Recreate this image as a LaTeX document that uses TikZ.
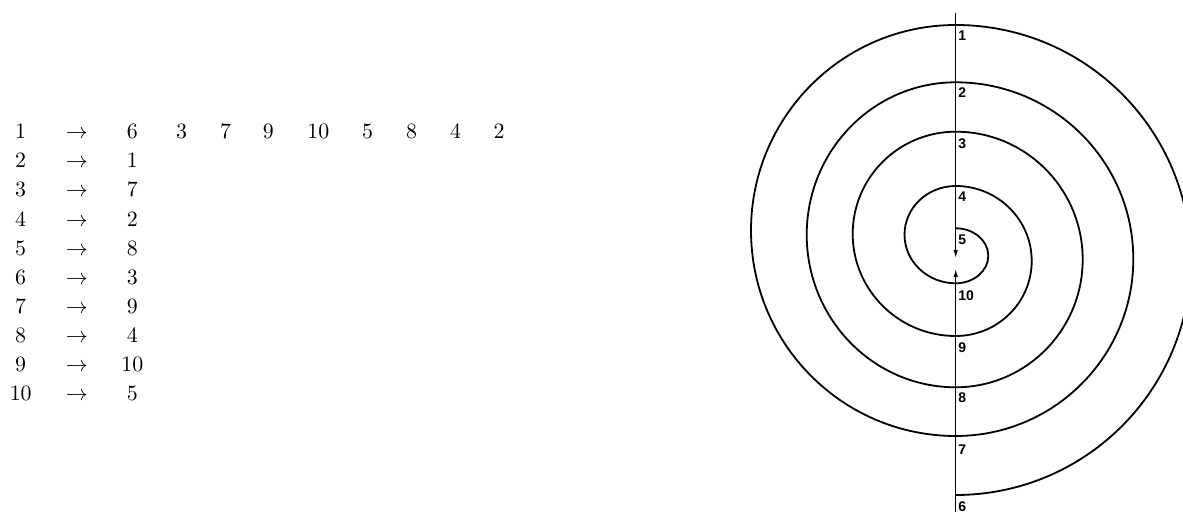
\documentclass[tikz,border=0pt]{standalone}
\usepackage{fontspec}
\newfontfamily\lblfont{Liberation Sans}
\usetikzlibrary{arrows.meta}
\begin{document}
\begin{tikzpicture}[x=0.5pt,y=-0.5pt,
  spiral/.style={line width=0.9pt},
  axisline/.style={line width=0.5pt},
  tipped/.style={-{Latex[length=4pt,width=2.2pt]}},
  lbl/.style={font=\fontsize{7}{8}\selectfont\lblfont\bfseries, anchor=west, inner sep=0pt},
  cell/.style={font=\fontsize{10.95}{13}\selectfont, anchor=base, inner sep=0pt}]
\useasboundingbox (0,0) rectangle (1183,512);
\clip (0,0) rectangle (1183,512);
% table
\foreach \a/\b [count=\i] in {1/6,2/1,3/7,4/2,5/8,6/3,7/9,8/4,9/10,10/5} {
  \pgfmathsetmacro\yy{138.8+(\i-1)*29.07}
  \node[cell] (l\i) at (20.7,\yy) {$\a$};
  \node[cell] (r\i) at (76.7,\yy) {$\rightarrow$};
  \node[cell] (v\i) at (132.3,\yy) {$\b$};
}
\foreach \v/\x [count=\j] in {3/181.7,7/225.7,9/268.3,10/318.3,5/367.7,8/411.7,4/455.7,2/499}
  \node[cell] (e\j) at (\x,138.8) {$\v$};
% spiral
\coordinate (top) at (955.7,12.7);
\coordinate (c5) at (955.7,228.3);
\coordinate (tipd) at (955.7,258);
\coordinate (tipu) at (955.7,269);
\coordinate (bot) at (955.7,515);
\draw[axisline,tipped] (top) -- (tipd);
\draw[axisline,tipped] (bot) -- (tipu);
\draw[spiral] (c5)
  arc[start angle=90,end angle=-90,x radius=16.3pt,y radius=13.75pt]
  arc[start angle=-90,end angle=-270,x radius=25.6pt,y radius=24.325pt]
  arc[start angle=90,end angle=-90,x radius=38pt,y radius=37.5pt]
  arc[start angle=-90,end angle=-270,x radius=51.5pt,y radius=51.075pt]
  arc[start angle=90,end angle=-90,x radius=63.5pt,y radius=63.9pt]
  arc[start angle=-90,end angle=-270,x radius=74.5pt,y radius=76.25pt]
  arc[start angle=90,end angle=-90,x radius=88.8pt,y radius=88.425pt]
  arc[start angle=-90,end angle=-270,x radius=102.35pt,y radius=102.75pt]
  arc[start angle=90,end angle=-90,x radius=117.5pt,y radius=117.5pt];
% labels
\node[lbl] (n1) at (958,36) {1};
\node[lbl] (n2) at (958,92.3) {2};
\node[lbl] (n3) at (958,143.3) {3};
\node[lbl] (n4) at (958,196.7) {4};
\node[lbl] (n5) at (958,240) {5};
\node[lbl] (n10) at (958,296) {10};
\node[lbl] (n9) at (958,347.7) {9};
\node[lbl] (n8) at (958,398) {8};
\node[lbl] (n7) at (958,450) {7};
\node[lbl] (n6) at (958,507) {6};
\end{tikzpicture}
\end{document}
